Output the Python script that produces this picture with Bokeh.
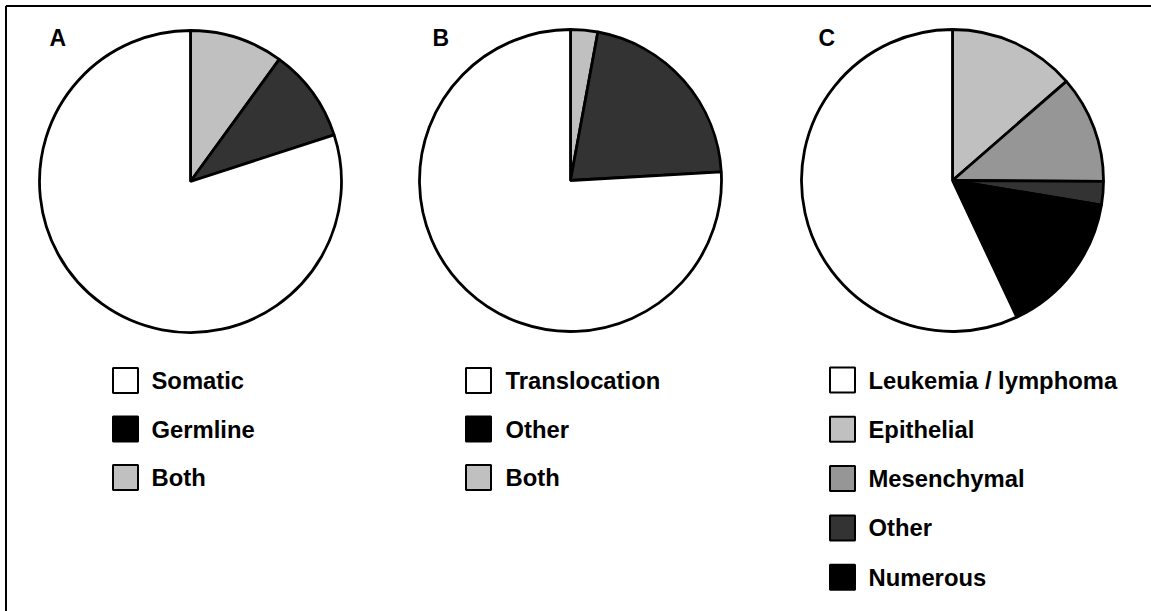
import math
from bokeh.plotting import figure
from bokeh.models import Range1d, ColumnDataSource
from bokeh.core.properties import value
from bokeh.embed import file_html
from bokeh.resources import INLINE

# ---------------- data (percent of genes) ----------------
a_labels = ["Somatic", "Germline", "Both"]
a_values = [80.0, 10.0, 10.0]
a_slice_colors = ["#ffffff", "#333333", "#c0c0c0"]
a_key_colors = ["#ffffff", "#000000", "#c0c0c0"]
a_pie_order = ["Both", "Germline", "Somatic"]

b_labels = ["Translocation", "Other", "Both"]
b_values = [75.9, 21.2, 2.9]
b_slice_colors = ["#ffffff", "#333333", "#c0c0c0"]
b_key_colors = ["#ffffff", "#000000", "#c0c0c0"]
b_pie_order = ["Both", "Other", "Translocation"]

c_labels = ["Leukemia / lymphoma", "Epithelial", "Mesenchymal", "Other", "Numerous"]
c_values = [57.0, 13.6, 11.5, 2.5, 15.4]
c_slice_colors = ["#ffffff", "#c0c0c0", "#969696", "#333333", "#000000"]
c_key_colors = ["#ffffff", "#c0c0c0", "#969696", "#333333", "#000000"]
c_pie_order = ["Epithelial", "Mesenchymal", "Other", "Numerous", "Leukemia / lymphoma"]

panel_letters = ["A", "B", "C"]

# ---------------- layout ----------------
W, H = 1151, 611
FONT = "Liberation Sans"

p = figure(width=W, height=H, output_backend="svg", toolbar_location=None,
           x_axis_type=None, y_axis_type=None,
           x_range=Range1d(0, W), y_range=Range1d(0, H),
           min_border=0, min_border_left=0, min_border_right=0,
           min_border_top=0, min_border_bottom=0)
p.outline_line_color = None
p.grid.visible = False
p.background_fill_color = "white"
p.border_fill_color = "white"

def Y(y):
    return H - y

# frame (top and left edges visible)
p.line(x=[5.5, W + 5], y=[Y(5.5), Y(5.5)], line_color="black", line_width=2)
p.line(x=[5.5, 5.5], y=[Y(5.5), Y(H + 5)], line_color="black", line_width=2)

panels = [
    dict(labels=a_labels, values=a_values, slice_colors=a_slice_colors,
         key_colors=a_key_colors, order=a_pie_order,
         cx=190, cy=181, r=151, letter_x=49, key_x=125, text_x=151, rows_y0=380, row_dy=48.5),
    dict(labels=b_labels, values=b_values, slice_colors=b_slice_colors,
         key_colors=b_key_colors, order=b_pie_order,
         cx=570, cy=180, r=151, letter_x=432, key_x=478, text_x=505, rows_y0=380, row_dy=48.5),
    dict(labels=c_labels, values=c_values, slice_colors=c_slice_colors,
         key_colors=c_key_colors, order=c_pie_order,
         cx=952, cy=180, r=151, letter_x=818, key_x=842, text_x=868, rows_y0=379.5, row_dy=49.3),
]

for letter, pan in zip(panel_letters, panels):
    vals = dict(zip(pan["labels"], pan["values"]))
    cols = dict(zip(pan["labels"], pan["slice_colors"]))
    total = sum(pan["values"])
    starts, ends, fills = [], [], []
    cum = 0.0
    for name in pan["order"]:
        frac0 = cum / total
        cum += vals[name]
        frac1 = cum / total
        starts.append(math.pi / 2 - 2 * math.pi * frac0)
        ends.append(math.pi / 2 - 2 * math.pi * frac1)
        fills.append(cols[name])
    n = len(pan["order"])
    src = ColumnDataSource(dict(x=[pan["cx"]] * n, y=[Y(pan["cy"])] * n,
                                start=starts, end=ends, fill=fills))
    p.wedge(x="x", y="y", radius=pan["r"], start_angle="start", end_angle="end",
            direction="clock", fill_color="fill", line_color="black",
            line_width=2.8, source=src)

    # panel letter
    p.text(x=[pan["letter_x"]], y=[Y(37)], text=[letter], text_font=value(FONT),
           text_font_style="bold", text_font_size="23px", text_align="left",
           text_baseline="middle", text_color="black")

    # legend
    m = len(pan["labels"])
    ys = [Y(pan["rows_y0"] + i * pan["row_dy"]) for i in range(m)]
    lsrc = ColumnDataSource(dict(x=[pan["key_x"]] * m, y=ys,
                                 tx=[pan["text_x"]] * m, fill=pan["key_colors"],
                                 label=pan["labels"]))
    p.rect(x="x", y="y", width=25, height=25, fill_color="fill",
           line_color="black", line_width=2, source=lsrc)
    p.text(x="tx", y="y", text="label", text_font=value(FONT), text_font_style="bold",
           text_font_size="23.8px", text_align="left", text_baseline="middle",
           text_color="black", source=lsrc)

open("out.html", "w").write(file_html(p, INLINE))
